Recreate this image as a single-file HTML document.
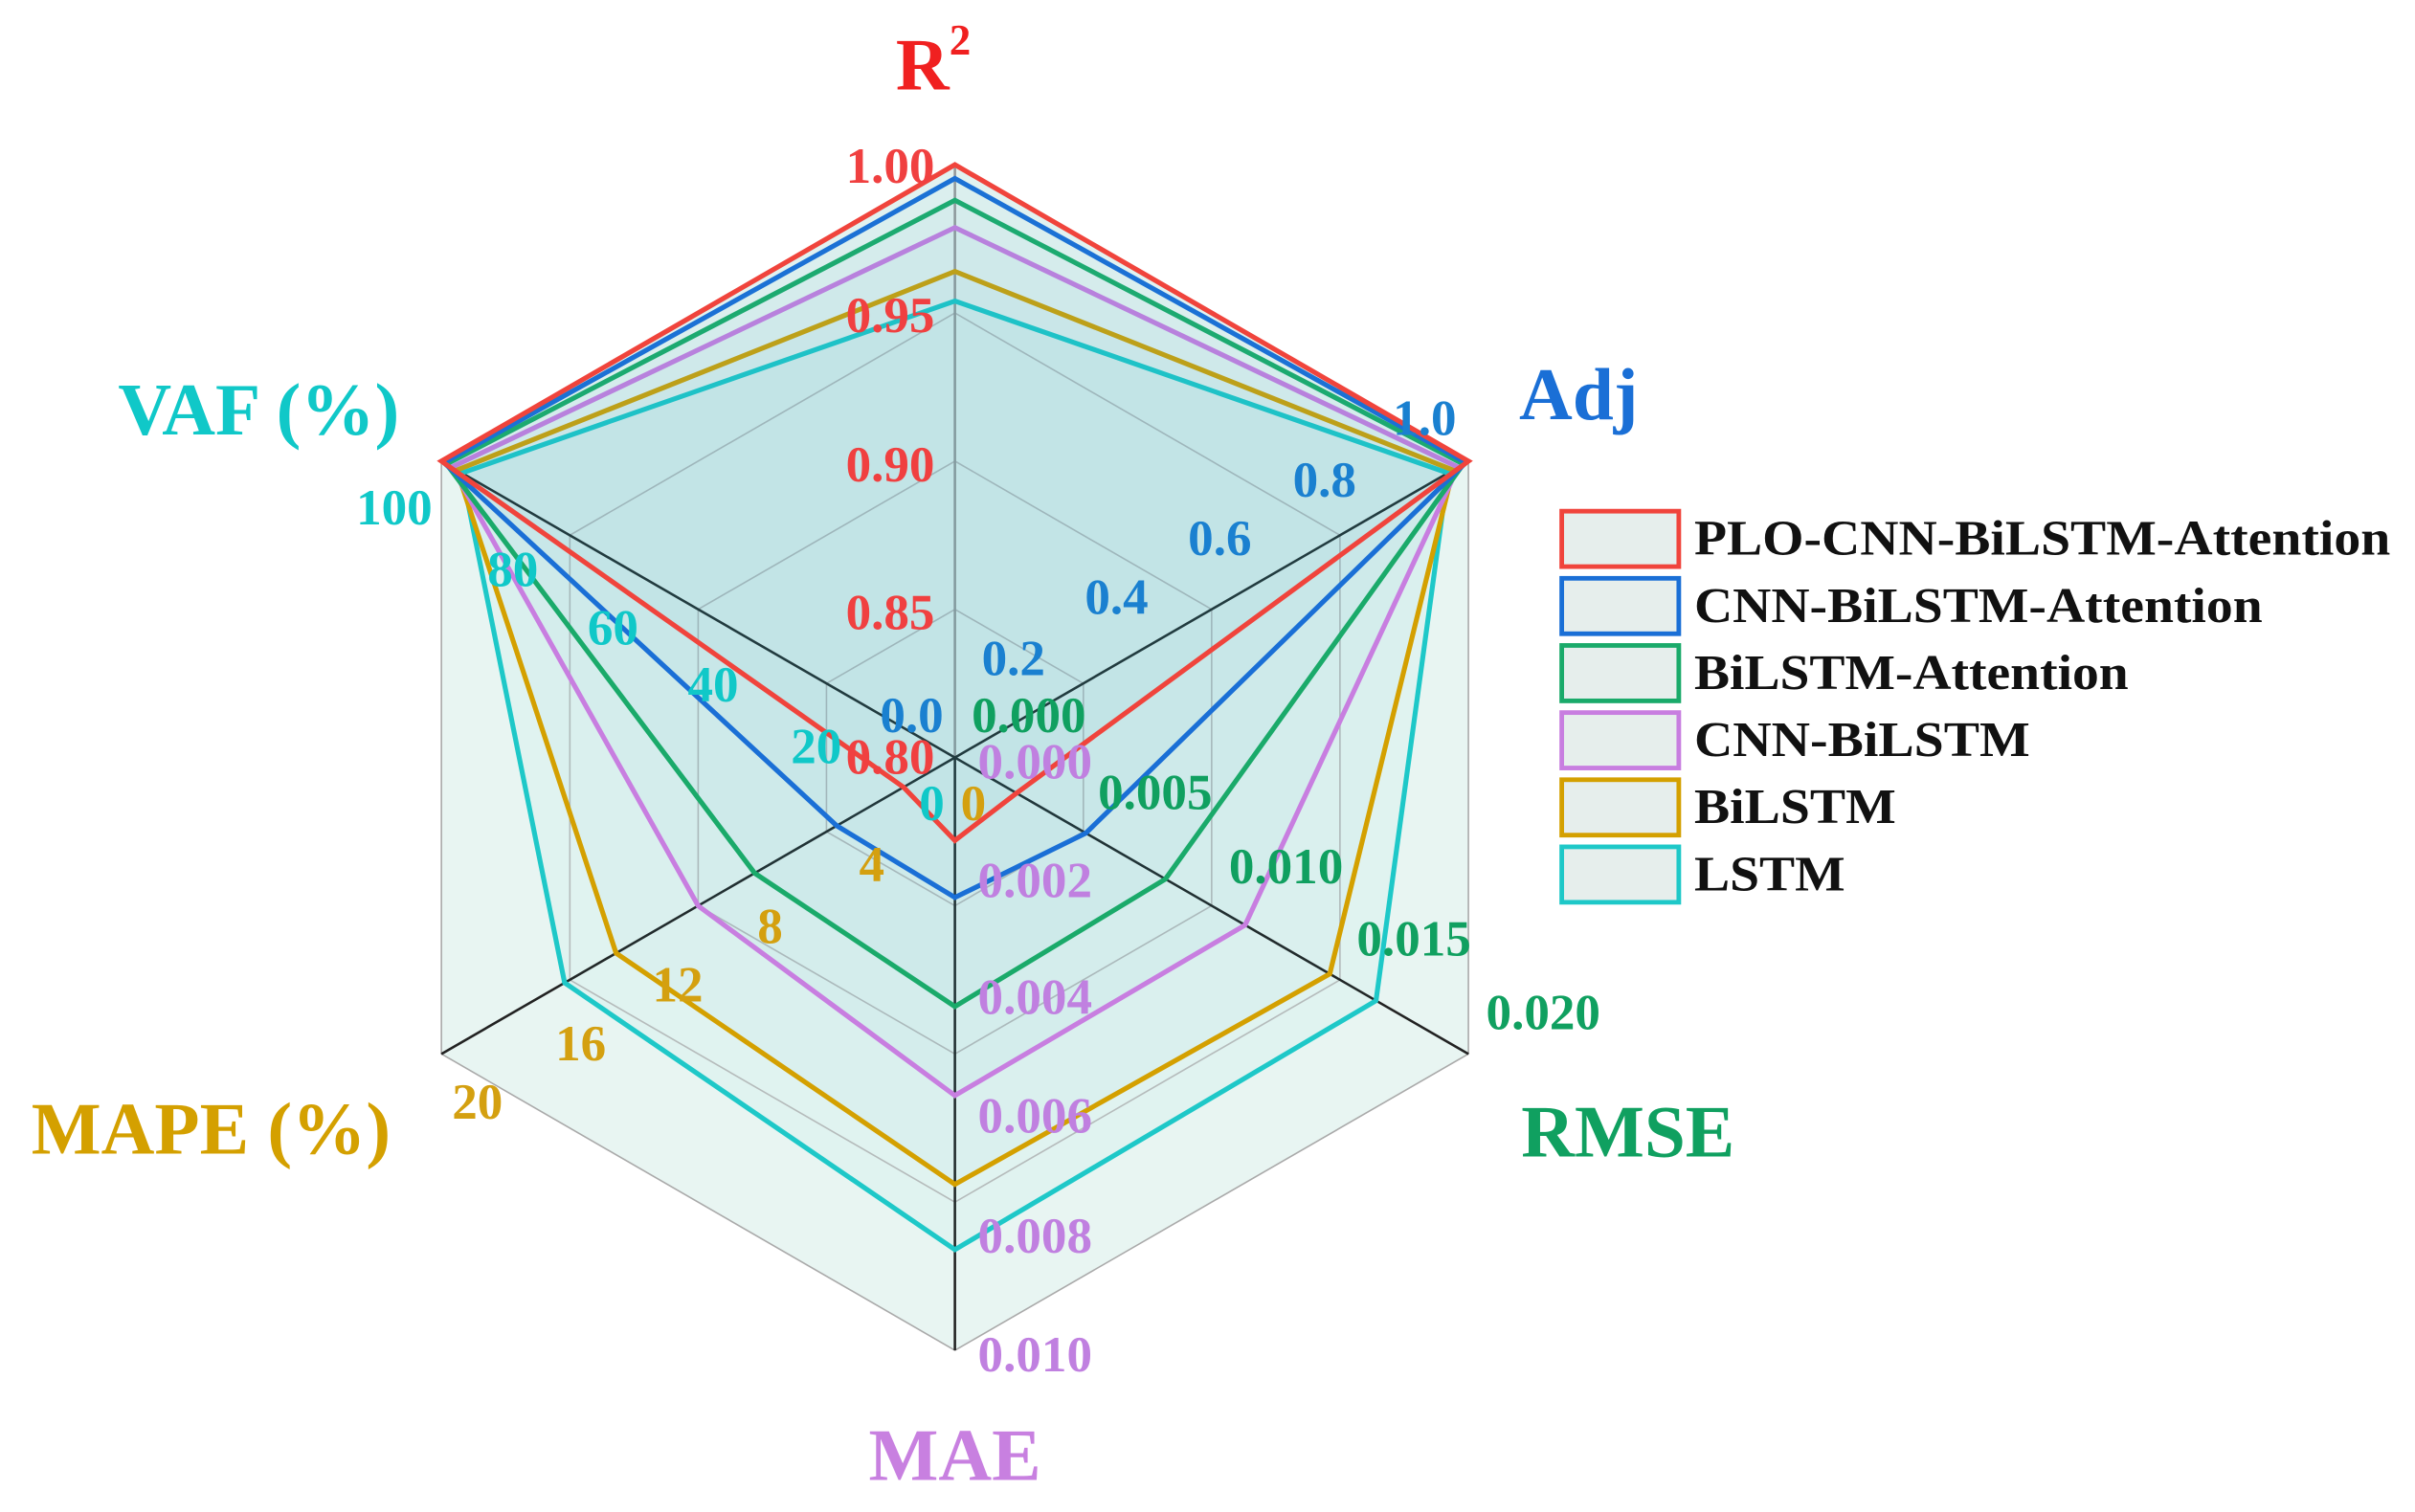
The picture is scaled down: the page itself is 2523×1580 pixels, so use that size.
<!DOCTYPE html>
<html><head><meta charset="utf-8"><style>html,body{margin:0;padding:0;background:#fff}svg{display:block}text{font-family:"Liberation Serif",serif;font-weight:bold}</style></head>
<body>
<svg width="2523" height="1580" viewBox="0 0 1568 982" preserveAspectRatio="none" xmlns="http://www.w3.org/2000/svg">
<polygon points="620,107 953.4,299.5 953.4,684.5 620,877 286.6,684.5 286.6,299.5" fill="#e8f5f2" stroke="#aaa" stroke-width="1"/>
<g fill="none" stroke="#bbb" stroke-width="1">
<polygon points="620,395.75 703.4,443.9 703.4,540.1 620,588.25 536.6,540.1 536.6,443.9"/>
<polygon points="620,299.5 786.7,395.75 786.7,588.25 620,684.5 453.3,588.25 453.3,395.75"/>
<polygon points="620,203.25 870,347.6 870,636.4 620,780.75 370,636.4 370,347.6"/>
</g>
<line x1="620" y1="492" x2="620" y2="107" stroke="#999" stroke-width="1.6"/>
<g stroke="#222" stroke-width="1.6">
<line x1="620" y1="492" x2="953.4" y2="299.5"/>
<line x1="620" y1="492" x2="953.4" y2="684.5"/>
<line x1="620" y1="492" x2="620" y2="877"/>
<line x1="620" y1="492" x2="286.6" y2="684.5"/>
<line x1="620" y1="492" x2="286.6" y2="299.5"/>
</g>
<g stroke-width="3.2" fill-opacity="0.035">
<polygon points="620,195.5 940.1,307.2 893.4,649.9 620,811.6 366.6,638.3 299.9,307.2" fill="#1ec8c8" stroke="#1ec8c8"/>
<polygon points="620,176.3 943.4,305.3 863.4,632.5 620,769.2 400,619 296.6,305.3" fill="#40a0c0" stroke="#d4a000"/>
<polygon points="620,147.8 946.7,303.4 808.4,600.8 620,711.5 453.3,588.3 293.3,303.4" fill="#40a0c0" stroke="#c87ee0"/>
<polygon points="620,130.1 950.1,301.4 756.7,570.9 620,653.7 490,567.1 289.9,301.4" fill="#40a0c0" stroke="#1aaa6a"/>
<polygon points="620,115.9 951.7,300.5 705,541.1 620,582.9 543.3,536.3 288.3,300.5" fill="#40a0c0" stroke="#1a6fd6"/>
<polygon points="620,107 953.4,299.5 660,515.1 620,545.9 586.7,511.3 286.6,299.5" fill="#40a0c0" stroke="#f0443c"/>
</g>
<g font-size="33" text-anchor="middle" dominant-baseline="central">
<g fill="#f04040"><text x="578" y="108">1.00</text><text x="578" y="205">0.95</text><text x="578" y="302">0.90</text><text x="578" y="398">0.85</text><text x="578" y="492">0.80</text></g>
<g fill="#1a80d0"><text x="925" y="272">1.0</text><text x="860" y="312">0.8</text><text x="792" y="350">0.6</text><text x="725" y="388">0.4</text><text x="658" y="428">0.2</text><text x="592" y="465">0.0</text></g>
<g fill="#10a060"><text x="668" y="465">0.000</text><text x="750" y="515">0.005</text><text x="835" y="563">0.010</text><text x="918" y="610">0.015</text><text x="1002" y="658">0.020</text></g>
<g fill="#c080e0"><text x="672" y="495">0.000</text><text x="672" y="572">0.002</text><text x="672" y="648">0.004</text><text x="672" y="725">0.006</text><text x="672" y="803">0.008</text><text x="672" y="880">0.010</text></g>
<g fill="#d4a010"><text x="632" y="522">0</text><text x="566" y="562">4</text><text x="500" y="602">8</text><text x="440" y="640">12</text><text x="377" y="678">16</text><text x="310" y="716">20</text></g>
<g fill="#10c8c8"><text x="605" y="522">0</text><text x="530" y="485">20</text><text x="463" y="445">40</text><text x="398" y="408">60</text><text x="333" y="370">80</text><text x="256" y="330">100</text></g>
</g>
<g font-size="48" text-anchor="middle" dominant-baseline="central">
<text x="606" y="42" fill="#f02020">R<tspan font-size="28" dy="-16">2</tspan></text>
<text x="1025" y="256" fill="#1a6fd6">Adj</text>
<text x="168" y="266" fill="#10c8c8">VAF (%)</text>
<text x="137" y="733" fill="#d4a000">MAPE (%)</text>
<text x="1057" y="735" fill="#10a060">RMSE</text>
<text x="620" y="945" fill="#c880e0">MAE</text>
</g>
<g stroke-width="3" fill="#e6eeec">
<rect x="1014" y="332" width="76" height="36" stroke="#f0443c"/>
<rect x="1014" y="375.6" width="76" height="36" stroke="#1a6fd6"/>
<rect x="1014" y="419.2" width="76" height="36" stroke="#1aaa6a"/>
<rect x="1014" y="462.8" width="76" height="36" stroke="#c87ee0"/>
<rect x="1014" y="506.4" width="76" height="36" stroke="#d4a000"/>
<rect x="1014" y="550" width="76" height="36" stroke="#1ec8c8"/>
</g>
<g font-size="32" fill="#111" dominant-baseline="central">
<text x="1100" y="350" textLength="452" lengthAdjust="spacingAndGlyphs">PLO-CNN-BiLSTM-Attention</text>
<text x="1100" y="393.6" textLength="369" lengthAdjust="spacingAndGlyphs">CNN-BiLSTM-Attention</text>
<text x="1100" y="437.2" textLength="282" lengthAdjust="spacingAndGlyphs">BiLSTM-Attention</text>
<text x="1100" y="480.8" textLength="218" lengthAdjust="spacingAndGlyphs">CNN-BiLSTM</text>
<text x="1100" y="524.4" textLength="131" lengthAdjust="spacingAndGlyphs">BiLSTM</text>
<text x="1100" y="568" textLength="98" lengthAdjust="spacingAndGlyphs">LSTM</text>
</g>
</svg>
</body></html>
